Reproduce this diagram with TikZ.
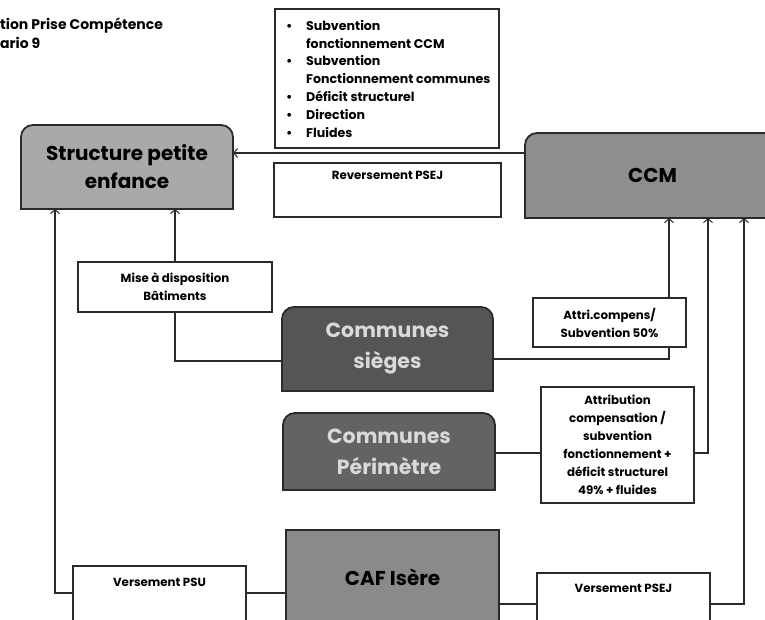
\documentclass[tikz,border=0pt]{standalone}
\usepackage{fontspec}
\setmainfont{Poppins}
\usetikzlibrary{arrows.meta,backgrounds}
\definecolor{cStruct}{HTML}{A9A9A9}
\definecolor{cCCM}{HTML}{8E8E8E}
\definecolor{cSieges}{HTML}{555555}
\definecolor{cPerim}{HTML}{636363}
\definecolor{cCAF}{HTML}{8A8A8A}
\definecolor{cLine}{HTML}{2A2A2A}
\newcommand{\TopRound}[2]{%
  \draw[line width=1.8pt, draw=cLine, fill=#2] (#1.south west) -- ([yshift=-12pt]#1.north west)
    arc[start angle=180,end angle=90,radius=12pt] -- ([xshift=-12pt]#1.north east)
    arc[start angle=90,end angle=0,radius=12pt] -- (#1.south east) -- cycle;}
\tikzset{
  bigbox/.style={draw=none, inner sep=0pt, outer sep=0pt, align=center},
  bigtext/.style={font=\bfseries\fontsize{20}{28}\selectfont},
  comtext/.style={font=\bfseries\fontsize{20.5}{31}\selectfont, text=black!15},
  lblbox/.style={draw=cLine, line width=1.6pt, fill=white, inner sep=0pt, outer sep=0pt},
  lbltext/.style={inner sep=0pt, align=center, font=\bfseries\fontsize{11.8}{18}\selectfont},
  arr/.style={draw=cLine, line width=1.1pt, -{Straight Barb[length=4pt,width=9pt,line width=1pt]}},
}
\begin{document}
\begin{tikzpicture}[x=1pt,y=1pt]
\useasboundingbox (0,0) rectangle (765,620);
% title
\node[anchor=west, inner sep=0pt, font=\bfseries\fontsize{14}{17}\selectfont] (t1) at (0,594) {tion Prise Compétence};
\node[anchor=west, inner sep=0pt, font=\bfseries\fontsize{14}{17}\selectfont] (t2) at (0,577) {ario 9};
% main boxes (text)
\node[bigbox, bigtext, minimum width=212pt, minimum height=84pt] (struct) at (127,453) {Structure petite\\enfance};
\node[bigbox, bigtext, minimum width=255pt, minimum height=85pt] (ccm) at (652.5,444.5) {CCM};
\node[bigbox, comtext, minimum width=211pt, minimum height=84pt] (sieges) at (387.5,271) {Communes\\sièges};
\node[bigbox, comtext, minimum width=212pt, minimum height=77pt] (perim) at (389,168.5) {Communes\\Périmètre};
\node[bigbox, bigtext, minimum width=213pt, minimum height=94pt] (caf) at (392.5,43) {CAF Isère};
\begin{pgfonlayer}{background}
  \TopRound{struct}{cStruct}
  \TopRound{ccm}{cCCM}
  \TopRound{sieges}{cSieges}
  \TopRound{perim}{cPerim}
  \draw[line width=1.8pt, draw=cLine, fill=cCAF] (caf.south west) rectangle (caf.north east);
\end{pgfonlayer}
% connectors
\draw[arr] (ccm.west |- 0,467) -- (struct.east |- 0,467);
\draw[arr] (sieges.west |- 0,259) -| (struct.south -| 175,0);
\draw[arr] (caf.west |- 0,27) -| (struct.south -| 55,0);
\draw[arr] (sieges.east |- 0,261) -| (ccm.south -| 669,0);
\draw[arr] (perim.east |- 0,167) -| (ccm.south -| 708,0);
\draw[arr] (caf.east |- 0,16) -| (ccm.south -| 744,0);
% label boxes
\node[lblbox, minimum width=224pt, minimum height=139pt] (bul) at (387,541.5) {};
\node[anchor=north west, inner sep=0pt, align=left, font=\bfseries\fontsize{12.6}{17.8}\selectfont] (bultext) at (286,600)
 {\makebox[20pt][l]{•}Subvention\\
  \hspace*{20pt}fonctionnement CCM\\
  \makebox[20pt][l]{•}Subvention\\
  \hspace*{20pt}Fonctionnement communes\\
  \makebox[20pt][l]{•}Déficit structurel\\
  \makebox[20pt][l]{•}Direction\\
  \makebox[20pt][l]{•}Fluides};
\node[lblbox, minimum width=227pt, minimum height=54pt] (rev) at (387.5,430) {};
\node[lbltext] (revt) at (387.5,445) {Reversement PSEJ};
\node[lblbox, lbltext, minimum width=194pt, minimum height=50pt] (mise) at (175,333) {Mise à disposition\\Bâtiments};
\node[lblbox, lbltext, minimum width=153pt, minimum height=49pt] (attri) at (609.5,297.5) {Attri.compens/\\Subvention 50\%};
\node[lblbox, lbltext, minimum width=153pt, minimum height=116pt] (attrib) at (617.5,175) {Attribution\\compensation /\\subvention\\fonctionnement +\\déficit structurel\\49\% + fluides};
\node[lblbox, minimum width=173pt, minimum height=70pt] (psu) at (159.5,19) {};
\node[lbltext] (psut) at (159.5,38) {Versement PSU};
\node[lblbox, minimum width=173pt, minimum height=66pt] (psej) at (623.5,14) {};
\node[lbltext] (psejt) at (623.5,32) {Versement PSEJ};
\end{tikzpicture}
\end{document}
